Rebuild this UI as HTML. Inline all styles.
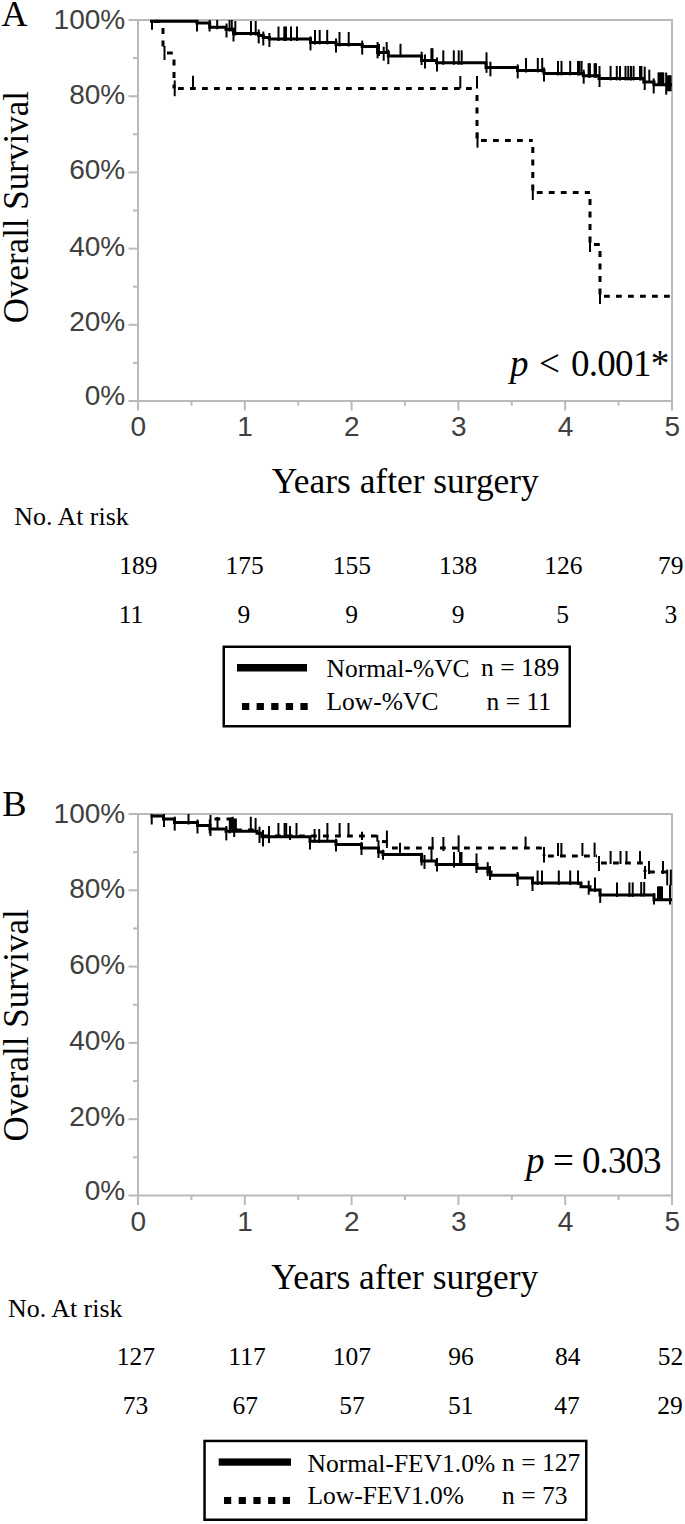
<!DOCTYPE html>
<html><head><meta charset="utf-8"><title>Kaplan-Meier curves</title>
<style>html,body{margin:0;padding:0;background:#fff;} body{width:685px;height:1524px;overflow:hidden;} svg{display:block;}</style>
</head><body>
<svg width="685" height="1524" viewBox="0 0 685 1524">
<rect width="685" height="1524" fill="#fff"/>
<rect x="138" y="19" width="535" height="2" fill="#bababa"/>
<rect x="671" y="19" width="2" height="383" fill="#bababa"/>
<rect x="137" y="19" width="2" height="383" fill="#bababa"/>
<rect x="137" y="400" width="536" height="2" fill="#bababa"/>
<rect x="128.5" y="400" width="9.5" height="2" fill="#bababa"/>
<rect x="133" y="361.9" width="5" height="2" fill="#bababa"/>
<rect x="128.5" y="323.8" width="9.5" height="2" fill="#bababa"/>
<rect x="133" y="285.7" width="5" height="2" fill="#bababa"/>
<rect x="128.5" y="247.6" width="9.5" height="2" fill="#bababa"/>
<rect x="133" y="209.5" width="5" height="2" fill="#bababa"/>
<rect x="128.5" y="171.4" width="9.5" height="2" fill="#bababa"/>
<rect x="133" y="133.3" width="5" height="2" fill="#bababa"/>
<rect x="128.5" y="95.2" width="9.5" height="2" fill="#bababa"/>
<rect x="133" y="57.1" width="5" height="2" fill="#bababa"/>
<rect x="128.5" y="19" width="9.5" height="2" fill="#bababa"/>
<rect x="137" y="401" width="2" height="9.5" fill="#bababa"/>
<rect x="190.4" y="401" width="2" height="4.5" fill="#bababa"/>
<rect x="243.8" y="401" width="2" height="9.5" fill="#bababa"/>
<rect x="297.2" y="401" width="2" height="4.5" fill="#bababa"/>
<rect x="350.6" y="401" width="2" height="9.5" fill="#bababa"/>
<rect x="404" y="401" width="2" height="4.5" fill="#bababa"/>
<rect x="457.4" y="401" width="2" height="9.5" fill="#bababa"/>
<rect x="510.8" y="401" width="2" height="4.5" fill="#bababa"/>
<rect x="564.2" y="401" width="2" height="9.5" fill="#bababa"/>
<rect x="617.6" y="401" width="2" height="4.5" fill="#bababa"/>
<rect x="671" y="401" width="2" height="9.5" fill="#bababa"/>
<text x="125.2" y="28.7" font-family="Liberation Sans" font-size="28" text-anchor="end" fill="#404040" >100%</text>
<text x="125.2" y="103.6" font-family="Liberation Sans" font-size="28" text-anchor="end" fill="#404040" >80%</text>
<text x="125.2" y="179.3" font-family="Liberation Sans" font-size="28" text-anchor="end" fill="#404040" >60%</text>
<text x="125.2" y="255.6" font-family="Liberation Sans" font-size="28" text-anchor="end" fill="#404040" >40%</text>
<text x="125.2" y="331.3" font-family="Liberation Sans" font-size="28" text-anchor="end" fill="#404040" >20%</text>
<text x="125.2" y="405" font-family="Liberation Sans" font-size="28" text-anchor="end" fill="#404040" >0%</text>
<text x="138.3" y="436" font-family="Liberation Sans" font-size="28" text-anchor="middle" fill="#404040" >0</text>
<text x="245.1" y="436" font-family="Liberation Sans" font-size="28" text-anchor="middle" fill="#404040" >1</text>
<text x="351.9" y="436" font-family="Liberation Sans" font-size="28" text-anchor="middle" fill="#404040" >2</text>
<text x="458.7" y="436" font-family="Liberation Sans" font-size="28" text-anchor="middle" fill="#404040" >3</text>
<text x="565.5" y="436" font-family="Liberation Sans" font-size="28" text-anchor="middle" fill="#404040" >4</text>
<text x="672.3" y="436" font-family="Liberation Sans" font-size="28" text-anchor="middle" fill="#404040" >5</text>
<text x="1.6" y="25.8" font-family="Liberation Serif" font-size="36" text-anchor="start" fill="#000" >A</text>
<text x="0" y="0" font-family="Liberation Serif" font-size="35" text-anchor="middle" fill="#000" transform="translate(28.3 207.2) rotate(-90)">Overall Survival</text>
<text x="271.8" y="493" font-family="Liberation Serif" font-size="35.4" text-anchor="start" fill="#000" >Years after surgery</text>
<text x="14.3" y="525" font-family="Liberation Serif" font-size="25.9" text-anchor="start" fill="#000" >No. At risk</text>
<text x="138.3" y="573.5" font-family="Liberation Serif" font-size="25.5" text-anchor="middle" fill="#000" >189</text>
<text x="244.5" y="573.5" font-family="Liberation Serif" font-size="25.5" text-anchor="middle" fill="#000" >175</text>
<text x="351.9" y="573.5" font-family="Liberation Serif" font-size="25.5" text-anchor="middle" fill="#000" >155</text>
<text x="458.2" y="573.5" font-family="Liberation Serif" font-size="25.5" text-anchor="middle" fill="#000" >138</text>
<text x="563.3" y="573.5" font-family="Liberation Serif" font-size="25.5" text-anchor="middle" fill="#000" >126</text>
<text x="670.8" y="573.5" font-family="Liberation Serif" font-size="25.5" text-anchor="middle" fill="#000" >79</text>
<text x="131" y="622.5" font-family="Liberation Serif" font-size="25.5" text-anchor="middle" fill="#000" >11</text>
<text x="243.9" y="622.5" font-family="Liberation Serif" font-size="25.5" text-anchor="middle" fill="#000" >9</text>
<text x="351.7" y="622.5" font-family="Liberation Serif" font-size="25.5" text-anchor="middle" fill="#000" >9</text>
<text x="458" y="622.5" font-family="Liberation Serif" font-size="25.5" text-anchor="middle" fill="#000" >9</text>
<text x="562.7" y="622.5" font-family="Liberation Serif" font-size="25.5" text-anchor="middle" fill="#000" >5</text>
<text x="670.9" y="622.5" font-family="Liberation Serif" font-size="25.5" text-anchor="middle" fill="#000" >3</text>
<text x="510" y="375.8" font-family="Liberation Serif" font-size="37" font-style="italic" fill="#000">p</text>
<text x="539" y="375.8" font-family="Liberation Serif" font-size="37" fill="#000">&lt;</text>
<text x="571" y="375.8" font-family="Liberation Serif" font-size="37" fill="#000" textLength="98.2" lengthAdjust="spacing">0.001*</text>
<path d="M150 21.4 H163" fill="none" stroke="#000" stroke-width="3" stroke-dasharray="5.8 6.2" stroke-dashoffset="8"/>
<path d="M163 21.4 V53" fill="none" stroke="#000" stroke-width="3" stroke-dasharray="6 6.5" stroke-dashoffset="6"/>
<path d="M163 53 H174" fill="none" stroke="#000" stroke-width="3" stroke-dasharray="5.8 6.2" stroke-dashoffset="8"/>
<path d="M174 53 V88.5" fill="none" stroke="#000" stroke-width="3" stroke-dasharray="6 6.5" stroke-dashoffset="6"/>
<path d="M174 88.5 H477" fill="none" stroke="#000" stroke-width="3" stroke-dasharray="5.8 6.2" stroke-dashoffset="8"/>
<path d="M477 88.5 V140.6" fill="none" stroke="#000" stroke-width="3" stroke-dasharray="6 6.5" stroke-dashoffset="6"/>
<path d="M477 140.6 H532.8" fill="none" stroke="#000" stroke-width="3" stroke-dasharray="5.8 6.2" stroke-dashoffset="8"/>
<path d="M532.8 140.6 V192.6" fill="none" stroke="#000" stroke-width="3" stroke-dasharray="6 6.5" stroke-dashoffset="6"/>
<path d="M532.8 192.6 H590" fill="none" stroke="#000" stroke-width="3" stroke-dasharray="5.8 6.2" stroke-dashoffset="8"/>
<path d="M590 192.6 V244.5" fill="none" stroke="#000" stroke-width="3" stroke-dasharray="6 6.5" stroke-dashoffset="6"/>
<path d="M590 244.5 H600" fill="none" stroke="#000" stroke-width="3" stroke-dasharray="5.8 6.2" stroke-dashoffset="8"/>
<path d="M600 244.5 V296.3" fill="none" stroke="#000" stroke-width="3" stroke-dasharray="6 6.5" stroke-dashoffset="6"/>
<path d="M600 296.3 H672" fill="none" stroke="#000" stroke-width="3" stroke-dasharray="5.8 6.2" stroke-dashoffset="8"/>
<line x1="164.5" y1="46" x2="164.5" y2="60" stroke="#000" stroke-width="2" />
<line x1="174.7" y1="80.4" x2="174.7" y2="96.2" stroke="#000" stroke-width="2" />
<line x1="193" y1="75.7" x2="193" y2="88.5" stroke="#000" stroke-width="2" />
<line x1="460.3" y1="76" x2="460.3" y2="88.5" stroke="#000" stroke-width="2" />
<line x1="477" y1="76" x2="477" y2="88.5" stroke="#000" stroke-width="2" />
<line x1="477.5" y1="132.4" x2="477.5" y2="147.6" stroke="#000" stroke-width="2" />
<line x1="532.8" y1="185" x2="532.8" y2="200" stroke="#000" stroke-width="2" />
<line x1="590" y1="237" x2="590" y2="252" stroke="#000" stroke-width="2" />
<line x1="600" y1="289" x2="600" y2="304" stroke="#000" stroke-width="2" />
<path d="M150 21.2 H197 V23 H209.7 V27.3 H226 V29.5 H233.5 V33.5 H258.7 V35.4 H263.3 V37.5 H269.4 V39 H310.5 V42.4 H336 V44.5 H362.2 V46.6 H377.6 V52.5 H388.3 V56 H421.6 V60.4 H436.5 V62.8 H486 V67.5 H517.5 V70.4 H544 V73.4 H583.4 V75.7 H599 V78.4 H643.8 V81.9 H654 V84.8 H672" fill="none" stroke="#000" stroke-width="3" stroke-linecap="butt" stroke-linejoin="miter"/>
<line x1="152" y1="20" x2="152" y2="29.7" stroke="#000" stroke-width="2" />
<line x1="197" y1="20" x2="197" y2="31.5" stroke="#000" stroke-width="2" />
<line x1="209.6" y1="20" x2="209.6" y2="31.5" stroke="#000" stroke-width="2" />
<line x1="217.2" y1="20" x2="217.2" y2="29.3" stroke="#000" stroke-width="2" />
<line x1="226.5" y1="23.5" x2="226.5" y2="37.5" stroke="#000" stroke-width="2" />
<line x1="229.5" y1="20" x2="229.5" y2="31.5" stroke="#000" stroke-width="2" />
<line x1="231.8" y1="20" x2="231.8" y2="31.5" stroke="#000" stroke-width="2" />
<line x1="233.5" y1="27.5" x2="233.5" y2="41.5" stroke="#000" stroke-width="2" />
<line x1="235.3" y1="21" x2="235.3" y2="35.5" stroke="#000" stroke-width="2" />
<line x1="251" y1="21" x2="251" y2="35.5" stroke="#000" stroke-width="2" />
<line x1="255.7" y1="21" x2="255.7" y2="35.5" stroke="#000" stroke-width="2" />
<line x1="258.7" y1="29.4" x2="258.7" y2="43.4" stroke="#000" stroke-width="2" />
<line x1="263.3" y1="31.5" x2="263.3" y2="45.5" stroke="#000" stroke-width="2" />
<line x1="269.4" y1="33" x2="269.4" y2="47" stroke="#000" stroke-width="2" />
<line x1="278.5" y1="26.5" x2="278.5" y2="41" stroke="#000" stroke-width="2" />
<line x1="284.3" y1="26.5" x2="284.3" y2="41" stroke="#000" stroke-width="2" />
<line x1="286" y1="26.5" x2="286" y2="41" stroke="#000" stroke-width="2" />
<line x1="291" y1="26.5" x2="291" y2="41" stroke="#000" stroke-width="2" />
<line x1="297" y1="26.5" x2="297" y2="41" stroke="#000" stroke-width="2" />
<line x1="310.5" y1="36.4" x2="310.5" y2="50.4" stroke="#000" stroke-width="2" />
<line x1="315" y1="29.9" x2="315" y2="44.4" stroke="#000" stroke-width="2" />
<line x1="319.7" y1="29.9" x2="319.7" y2="44.4" stroke="#000" stroke-width="2" />
<line x1="327.2" y1="29.9" x2="327.2" y2="44.4" stroke="#000" stroke-width="2" />
<line x1="336" y1="38.5" x2="336" y2="52.5" stroke="#000" stroke-width="2" />
<line x1="339.5" y1="32" x2="339.5" y2="46.5" stroke="#000" stroke-width="2" />
<line x1="348.7" y1="32" x2="348.7" y2="46.5" stroke="#000" stroke-width="2" />
<line x1="362.2" y1="40.6" x2="362.2" y2="54.6" stroke="#000" stroke-width="2" />
<line x1="377.6" y1="42" x2="377.6" y2="58.4" stroke="#000" stroke-width="2" />
<line x1="379" y1="44" x2="379" y2="56" stroke="#000" stroke-width="2" />
<line x1="383.7" y1="46.7" x2="383.7" y2="60.7" stroke="#000" stroke-width="2" />
<line x1="386.7" y1="42" x2="386.7" y2="52.5" stroke="#000" stroke-width="2" />
<line x1="388.3" y1="49.6" x2="388.3" y2="64.2" stroke="#000" stroke-width="2" />
<line x1="400.5" y1="43.8" x2="400.5" y2="57.2" stroke="#000" stroke-width="2" />
<line x1="421.6" y1="51.7" x2="421.6" y2="65.1" stroke="#000" stroke-width="2" />
<line x1="425" y1="54.6" x2="425" y2="68.6" stroke="#000" stroke-width="2" />
<line x1="431.4" y1="48.2" x2="431.4" y2="61.6" stroke="#000" stroke-width="2" />
<line x1="432.5" y1="48.2" x2="432.5" y2="61.6" stroke="#000" stroke-width="2" />
<line x1="437" y1="57.5" x2="437" y2="71.5" stroke="#000" stroke-width="2" />
<line x1="443.3" y1="50.3" x2="443.3" y2="64.8" stroke="#000" stroke-width="2" />
<line x1="453.8" y1="50.3" x2="453.8" y2="64.8" stroke="#000" stroke-width="2" />
<line x1="458.7" y1="50.3" x2="458.7" y2="64.8" stroke="#000" stroke-width="2" />
<line x1="461.7" y1="50.3" x2="461.7" y2="64.8" stroke="#000" stroke-width="2" />
<line x1="486.5" y1="52.3" x2="486.5" y2="72.8" stroke="#000" stroke-width="2" />
<line x1="490.4" y1="61.7" x2="490.4" y2="76.3" stroke="#000" stroke-width="2" />
<line x1="517.7" y1="64.4" x2="517.7" y2="78.4" stroke="#000" stroke-width="2" />
<line x1="526" y1="57.9" x2="526" y2="72.4" stroke="#000" stroke-width="2" />
<line x1="537.8" y1="57.9" x2="537.8" y2="72.4" stroke="#000" stroke-width="2" />
<line x1="542.2" y1="57.9" x2="542.2" y2="72.4" stroke="#000" stroke-width="2" />
<line x1="544" y1="67.4" x2="544" y2="81.4" stroke="#000" stroke-width="2" />
<line x1="558" y1="60.9" x2="558" y2="75.4" stroke="#000" stroke-width="2" />
<line x1="561.5" y1="60.9" x2="561.5" y2="75.4" stroke="#000" stroke-width="2" />
<line x1="570.2" y1="60.9" x2="570.2" y2="75.4" stroke="#000" stroke-width="2" />
<line x1="578" y1="60.9" x2="578" y2="75.4" stroke="#000" stroke-width="2" />
<line x1="579.5" y1="60.9" x2="579.5" y2="75.4" stroke="#000" stroke-width="2" />
<line x1="581.6" y1="60.9" x2="581.6" y2="75.4" stroke="#000" stroke-width="2" />
<line x1="583.7" y1="69.7" x2="583.7" y2="83.7" stroke="#000" stroke-width="2" />
<line x1="588.6" y1="63.2" x2="588.6" y2="77.7" stroke="#000" stroke-width="2" />
<line x1="589.9" y1="63.2" x2="589.9" y2="77.7" stroke="#000" stroke-width="2" />
<line x1="594.6" y1="63.2" x2="594.6" y2="77.7" stroke="#000" stroke-width="2" />
<line x1="596" y1="63.2" x2="596" y2="77.7" stroke="#000" stroke-width="2" />
<line x1="599.5" y1="66" x2="599.5" y2="87" stroke="#000" stroke-width="2" />
<line x1="610.6" y1="65.9" x2="610.6" y2="80.4" stroke="#000" stroke-width="2" />
<line x1="616.8" y1="65.9" x2="616.8" y2="80.4" stroke="#000" stroke-width="2" />
<line x1="620" y1="65.9" x2="620" y2="80.4" stroke="#000" stroke-width="2" />
<line x1="625.5" y1="65.9" x2="625.5" y2="80.4" stroke="#000" stroke-width="2" />
<line x1="628.3" y1="65.9" x2="628.3" y2="80.4" stroke="#000" stroke-width="2" />
<line x1="631" y1="65.9" x2="631" y2="80.4" stroke="#000" stroke-width="2" />
<line x1="633.6" y1="65.9" x2="633.6" y2="80.4" stroke="#000" stroke-width="2" />
<line x1="640" y1="65.9" x2="640" y2="80.4" stroke="#000" stroke-width="2" />
<line x1="641.4" y1="65.9" x2="641.4" y2="80.4" stroke="#000" stroke-width="2" />
<line x1="644.7" y1="66.7" x2="644.7" y2="90" stroke="#000" stroke-width="2" />
<line x1="649.3" y1="69.6" x2="649.3" y2="82.4" stroke="#000" stroke-width="2" />
<line x1="653.7" y1="78.4" x2="653.7" y2="93.5" stroke="#000" stroke-width="2" />
<line x1="658.5" y1="72.5" x2="658.5" y2="86" stroke="#000" stroke-width="2" />
<line x1="659.5" y1="72.5" x2="659.5" y2="86" stroke="#000" stroke-width="2" />
<line x1="660.5" y1="72.5" x2="660.5" y2="86" stroke="#000" stroke-width="2" />
<line x1="661.5" y1="72.5" x2="661.5" y2="86" stroke="#000" stroke-width="2" />
<line x1="662.5" y1="72.5" x2="662.5" y2="86" stroke="#000" stroke-width="2" />
<line x1="663.3" y1="72.5" x2="663.3" y2="86" stroke="#000" stroke-width="2" />
<line x1="666.2" y1="72.5" x2="666.2" y2="94.7" stroke="#000" stroke-width="2" />
<line x1="667.8" y1="75.4" x2="667.8" y2="91.2" stroke="#000" stroke-width="2" />
<line x1="668.8" y1="75.4" x2="668.8" y2="91.2" stroke="#000" stroke-width="2" />
<line x1="669.8" y1="75.4" x2="669.8" y2="91.2" stroke="#000" stroke-width="2" />
<line x1="670.6" y1="75.4" x2="670.6" y2="91.2" stroke="#000" stroke-width="2" />
<rect x="223.75" y="646.75" width="346" height="79.5" fill="none" stroke="#000" stroke-width="2.5"/>
<rect x="237" y="664" width="70" height="7.5" fill="#000"/>
<rect x="242" y="703" width="7.3" height="7" fill="#000"/>
<rect x="256.6" y="703" width="7.3" height="7" fill="#000"/>
<rect x="271.2" y="703" width="7.3" height="7" fill="#000"/>
<rect x="285.8" y="703" width="7.3" height="7" fill="#000"/>
<rect x="300.4" y="703" width="7.3" height="7" fill="#000"/>
<text x="326.5" y="676.9" font-family="Liberation Serif" font-size="25.5" text-anchor="start" fill="#000" >Normal-%VC</text>
<text x="326.5" y="709.6" font-family="Liberation Serif" font-size="25.5" text-anchor="start" fill="#000" >Low-%VC</text>
<text x="481" y="675.5" font-family="Liberation Serif" font-size="25.5" text-anchor="start" fill="#000" >n = 189</text>
<text x="486.5" y="710.2" font-family="Liberation Serif" font-size="25.5" text-anchor="start" fill="#000" >n = 11</text>
<rect x="138" y="813" width="535" height="2" fill="#bababa"/>
<rect x="671" y="813" width="2" height="383.5" fill="#bababa"/>
<rect x="137" y="813" width="2" height="383.5" fill="#bababa"/>
<rect x="137" y="1194.5" width="536" height="2" fill="#bababa"/>
<rect x="128.5" y="1194.5" width="9.5" height="2" fill="#bababa"/>
<rect x="133" y="1156.35" width="5" height="2" fill="#bababa"/>
<rect x="128.5" y="1118.2" width="9.5" height="2" fill="#bababa"/>
<rect x="133" y="1080.05" width="5" height="2" fill="#bababa"/>
<rect x="128.5" y="1041.9" width="9.5" height="2" fill="#bababa"/>
<rect x="133" y="1003.75" width="5" height="2" fill="#bababa"/>
<rect x="128.5" y="965.6" width="9.5" height="2" fill="#bababa"/>
<rect x="133" y="927.45" width="5" height="2" fill="#bababa"/>
<rect x="128.5" y="889.3" width="9.5" height="2" fill="#bababa"/>
<rect x="133" y="851.15" width="5" height="2" fill="#bababa"/>
<rect x="128.5" y="813" width="9.5" height="2" fill="#bababa"/>
<rect x="137" y="1195.5" width="2" height="9.5" fill="#bababa"/>
<rect x="190.4" y="1195.5" width="2" height="4.5" fill="#bababa"/>
<rect x="243.8" y="1195.5" width="2" height="9.5" fill="#bababa"/>
<rect x="297.2" y="1195.5" width="2" height="4.5" fill="#bababa"/>
<rect x="350.6" y="1195.5" width="2" height="9.5" fill="#bababa"/>
<rect x="404" y="1195.5" width="2" height="4.5" fill="#bababa"/>
<rect x="457.4" y="1195.5" width="2" height="9.5" fill="#bababa"/>
<rect x="510.8" y="1195.5" width="2" height="4.5" fill="#bababa"/>
<rect x="564.2" y="1195.5" width="2" height="9.5" fill="#bababa"/>
<rect x="617.6" y="1195.5" width="2" height="4.5" fill="#bababa"/>
<rect x="671" y="1195.5" width="2" height="9.5" fill="#bababa"/>
<text x="125.2" y="823.2" font-family="Liberation Sans" font-size="28" text-anchor="end" fill="#404040" >100%</text>
<text x="125.2" y="898.1" font-family="Liberation Sans" font-size="28" text-anchor="end" fill="#404040" >80%</text>
<text x="125.2" y="973.8" font-family="Liberation Sans" font-size="28" text-anchor="end" fill="#404040" >60%</text>
<text x="125.2" y="1050.1" font-family="Liberation Sans" font-size="28" text-anchor="end" fill="#404040" >40%</text>
<text x="125.2" y="1125.8" font-family="Liberation Sans" font-size="28" text-anchor="end" fill="#404040" >20%</text>
<text x="125.2" y="1199.5" font-family="Liberation Sans" font-size="28" text-anchor="end" fill="#404040" >0%</text>
<text x="138.3" y="1230.5" font-family="Liberation Sans" font-size="28" text-anchor="middle" fill="#404040" >0</text>
<text x="245.1" y="1230.5" font-family="Liberation Sans" font-size="28" text-anchor="middle" fill="#404040" >1</text>
<text x="351.9" y="1230.5" font-family="Liberation Sans" font-size="28" text-anchor="middle" fill="#404040" >2</text>
<text x="458.7" y="1230.5" font-family="Liberation Sans" font-size="28" text-anchor="middle" fill="#404040" >3</text>
<text x="565.5" y="1230.5" font-family="Liberation Sans" font-size="28" text-anchor="middle" fill="#404040" >4</text>
<text x="672.3" y="1230.5" font-family="Liberation Sans" font-size="28" text-anchor="middle" fill="#404040" >5</text>
<text x="2.2" y="815.8" font-family="Liberation Serif" font-size="36.5" text-anchor="start" fill="#000" >B</text>
<text x="0" y="0" font-family="Liberation Serif" font-size="35" text-anchor="middle" fill="#000" transform="translate(28.3 1025.3) rotate(-90)">Overall Survival</text>
<text x="271.2" y="1288.5" font-family="Liberation Serif" font-size="35.4" text-anchor="start" fill="#000" >Years after surgery</text>
<text x="8.1" y="1316.8" font-family="Liberation Serif" font-size="25.9" text-anchor="start" fill="#000" >No. At risk</text>
<text x="135.9" y="1365" font-family="Liberation Serif" font-size="25.5" text-anchor="middle" fill="#000" >127</text>
<text x="247" y="1365" font-family="Liberation Serif" font-size="25.5" text-anchor="middle" fill="#000" >117</text>
<text x="351.9" y="1365" font-family="Liberation Serif" font-size="25.5" text-anchor="middle" fill="#000" >107</text>
<text x="461" y="1365" font-family="Liberation Serif" font-size="25.5" text-anchor="middle" fill="#000" >96</text>
<text x="567.8" y="1365" font-family="Liberation Serif" font-size="25.5" text-anchor="middle" fill="#000" >84</text>
<text x="670.4" y="1365" font-family="Liberation Serif" font-size="25.5" text-anchor="middle" fill="#000" >52</text>
<text x="135.5" y="1414" font-family="Liberation Serif" font-size="25.5" text-anchor="middle" fill="#000" >73</text>
<text x="245.2" y="1414" font-family="Liberation Serif" font-size="25.5" text-anchor="middle" fill="#000" >67</text>
<text x="351.9" y="1414" font-family="Liberation Serif" font-size="25.5" text-anchor="middle" fill="#000" >57</text>
<text x="460.7" y="1414" font-family="Liberation Serif" font-size="25.5" text-anchor="middle" fill="#000" >51</text>
<text x="567" y="1414" font-family="Liberation Serif" font-size="25.5" text-anchor="middle" fill="#000" >47</text>
<text x="670" y="1414" font-family="Liberation Serif" font-size="25.5" text-anchor="middle" fill="#000" >29</text>
<text x="526" y="1172.7" font-family="Liberation Serif" font-size="37" font-style="italic" fill="#000">p</text>
<text x="553" y="1172.7" font-family="Liberation Serif" font-size="37" fill="#000">=</text>
<text x="582" y="1172.7" font-family="Liberation Serif" font-size="37" fill="#000" textLength="79.5" lengthAdjust="spacing">0.303</text>
<path d="M210.5 815 V819" fill="none" stroke="#000" stroke-width="3" stroke-dasharray="6 6.5" stroke-dashoffset="6"/>
<path d="M210.5 819 H232" fill="none" stroke="#000" stroke-width="3" stroke-dasharray="5.8 6.2" stroke-dashoffset="8"/>
<path d="M232 819 V830" fill="none" stroke="#000" stroke-width="3" stroke-dasharray="6 6.5" stroke-dashoffset="6"/>
<path d="M232 830 H259" fill="none" stroke="#000" stroke-width="3" stroke-dasharray="5.8 6.2" stroke-dashoffset="8"/>
<path d="M259 830 V836" fill="none" stroke="#000" stroke-width="3" stroke-dasharray="6 6.5" stroke-dashoffset="6"/>
<path d="M259 836 H378" fill="none" stroke="#000" stroke-width="3" stroke-dasharray="5.8 6.2" stroke-dashoffset="8"/>
<path d="M378 836 V841.6" fill="none" stroke="#000" stroke-width="3" stroke-dasharray="6 6.5" stroke-dashoffset="6"/>
<path d="M378 841.6 H388" fill="none" stroke="#000" stroke-width="3" stroke-dasharray="5.8 6.2" stroke-dashoffset="8"/>
<path d="M388 841.6 V848" fill="none" stroke="#000" stroke-width="3" stroke-dasharray="6 6.5" stroke-dashoffset="6"/>
<path d="M388 848 H544" fill="none" stroke="#000" stroke-width="3" stroke-dasharray="5.8 6.2" stroke-dashoffset="8"/>
<path d="M544 848 V856" fill="none" stroke="#000" stroke-width="3" stroke-dasharray="6 6.5" stroke-dashoffset="6"/>
<path d="M544 856 H597" fill="none" stroke="#000" stroke-width="3" stroke-dasharray="5.8 6.2" stroke-dashoffset="8"/>
<path d="M597 856 V863" fill="none" stroke="#000" stroke-width="3" stroke-dasharray="6 6.5" stroke-dashoffset="6"/>
<path d="M597 863 H645" fill="none" stroke="#000" stroke-width="3" stroke-dasharray="5.8 6.2" stroke-dashoffset="8"/>
<path d="M645 863 V872" fill="none" stroke="#000" stroke-width="3" stroke-dasharray="6 6.5" stroke-dashoffset="6"/>
<path d="M645 872 H669" fill="none" stroke="#000" stroke-width="3" stroke-dasharray="5.8 6.2" stroke-dashoffset="8"/>
<path d="M669 872 V877" fill="none" stroke="#000" stroke-width="3" stroke-dasharray="6 6.5" stroke-dashoffset="6"/>
<path d="M669 877 H672" fill="none" stroke="#000" stroke-width="3" stroke-dasharray="5.8 6.2" stroke-dashoffset="8"/>
<line x1="210.5" y1="815" x2="210.5" y2="836" stroke="#000" stroke-width="2" />
<line x1="217.5" y1="817" x2="217.5" y2="829.5" stroke="#000" stroke-width="2" />
<line x1="339.6" y1="823" x2="339.6" y2="836" stroke="#000" stroke-width="2" />
<line x1="348.5" y1="823" x2="348.5" y2="836" stroke="#000" stroke-width="2" />
<line x1="362" y1="831.7" x2="362" y2="840" stroke="#000" stroke-width="2" />
<line x1="377.3" y1="835" x2="377.3" y2="841.6" stroke="#000" stroke-width="2" />
<line x1="386.9" y1="830.5" x2="386.9" y2="848" stroke="#000" stroke-width="2" />
<line x1="400" y1="842.8" x2="400" y2="856" stroke="#000" stroke-width="2" />
<line x1="432.6" y1="837" x2="432.6" y2="848" stroke="#000" stroke-width="2" />
<line x1="443.4" y1="837" x2="443.4" y2="851" stroke="#000" stroke-width="2" />
<line x1="458.6" y1="835.3" x2="458.6" y2="852" stroke="#000" stroke-width="2" />
<line x1="525.6" y1="836.6" x2="525.6" y2="848" stroke="#000" stroke-width="2" />
<line x1="544" y1="847" x2="544" y2="862.6" stroke="#000" stroke-width="2" />
<line x1="558" y1="843" x2="558" y2="856" stroke="#000" stroke-width="2" />
<line x1="561.4" y1="843" x2="561.4" y2="856" stroke="#000" stroke-width="2" />
<line x1="582.4" y1="843" x2="582.4" y2="856" stroke="#000" stroke-width="2" />
<line x1="594.6" y1="842.6" x2="594.6" y2="857" stroke="#000" stroke-width="2" />
<line x1="599" y1="856" x2="599" y2="871" stroke="#000" stroke-width="2" />
<line x1="610.6" y1="851" x2="610.6" y2="864" stroke="#000" stroke-width="2" />
<line x1="620.5" y1="851" x2="620.5" y2="864" stroke="#000" stroke-width="2" />
<line x1="626.5" y1="851" x2="626.5" y2="864" stroke="#000" stroke-width="2" />
<line x1="640" y1="851" x2="640" y2="864" stroke="#000" stroke-width="2" />
<line x1="645" y1="866" x2="645" y2="879" stroke="#000" stroke-width="2" />
<line x1="649" y1="861" x2="649" y2="874" stroke="#000" stroke-width="2" />
<line x1="663" y1="861" x2="663" y2="874" stroke="#000" stroke-width="2" />
<line x1="667.2" y1="869.6" x2="667.2" y2="885.3" stroke="#000" stroke-width="2" />
<line x1="670.8" y1="869.6" x2="670.8" y2="885.3" stroke="#000" stroke-width="2" />
<path d="M150.5 816 H163.5 V819 H174.5 V822.6 H197.5 V825.5 H210 V829 H226 V831.2 H257 V833.2 H262 V836.8 H310 V841.3 H336 V844.5 H361.5 V848 H378.5 V852 H383 V854.5 H421.6 V861 H436.2 V864.5 H477 V868.2 H488 V872 H491 V875.3 H517.6 V878 H532.5 V883 H581 V886.7 H590 V890 H600 V894.9 H654 V899.8 H672" fill="none" stroke="#000" stroke-width="3" stroke-linecap="butt" stroke-linejoin="miter"/>
<line x1="151.7" y1="814" x2="151.7" y2="824.5" stroke="#000" stroke-width="2" />
<line x1="164" y1="814" x2="164" y2="827" stroke="#000" stroke-width="2" />
<line x1="174.7" y1="816.6" x2="174.7" y2="830.6" stroke="#000" stroke-width="2" />
<line x1="188.5" y1="814" x2="188.5" y2="824.6" stroke="#000" stroke-width="2" />
<line x1="197.5" y1="819.5" x2="197.5" y2="833.5" stroke="#000" stroke-width="2" />
<line x1="209.8" y1="819.5" x2="209.8" y2="833.5" stroke="#000" stroke-width="2" />
<line x1="226.3" y1="826" x2="226.3" y2="840.4" stroke="#000" stroke-width="2" />
<line x1="229.8" y1="820" x2="229.8" y2="833.4" stroke="#000" stroke-width="2" />
<line x1="231.1" y1="817.6" x2="231.1" y2="829" stroke="#000" stroke-width="2" />
<line x1="232.8" y1="816.8" x2="232.8" y2="829.9" stroke="#000" stroke-width="2" />
<line x1="234.2" y1="818.5" x2="234.2" y2="837" stroke="#000" stroke-width="2" />
<line x1="235.9" y1="818.5" x2="235.9" y2="830" stroke="#000" stroke-width="2" />
<line x1="250.8" y1="816.8" x2="250.8" y2="830.8" stroke="#000" stroke-width="2" />
<line x1="255.6" y1="818" x2="255.6" y2="830.8" stroke="#000" stroke-width="2" />
<line x1="259.5" y1="826.7" x2="259.5" y2="843" stroke="#000" stroke-width="2" />
<line x1="263" y1="830" x2="263" y2="846.5" stroke="#000" stroke-width="2" />
<line x1="269" y1="826" x2="269" y2="843" stroke="#000" stroke-width="2" />
<line x1="278.4" y1="823" x2="278.4" y2="837.5" stroke="#000" stroke-width="2" />
<line x1="284.6" y1="823" x2="284.6" y2="837.5" stroke="#000" stroke-width="2" />
<line x1="286.2" y1="823" x2="286.2" y2="837.5" stroke="#000" stroke-width="2" />
<line x1="290" y1="826" x2="290" y2="840" stroke="#000" stroke-width="2" />
<line x1="296.5" y1="823" x2="296.5" y2="837.5" stroke="#000" stroke-width="2" />
<line x1="310" y1="836" x2="310" y2="849.5" stroke="#000" stroke-width="2" />
<line x1="314.6" y1="829" x2="314.6" y2="842.4" stroke="#000" stroke-width="2" />
<line x1="319.2" y1="829" x2="319.2" y2="843" stroke="#000" stroke-width="2" />
<line x1="327.4" y1="823" x2="327.4" y2="842" stroke="#000" stroke-width="2" />
<line x1="336" y1="838.7" x2="336" y2="851.5" stroke="#000" stroke-width="2" />
<line x1="361.5" y1="842" x2="361.5" y2="855" stroke="#000" stroke-width="2" />
<line x1="378.5" y1="840.4" x2="378.5" y2="858" stroke="#000" stroke-width="2" />
<line x1="383" y1="849.8" x2="383" y2="859.7" stroke="#000" stroke-width="2" />
<line x1="421.6" y1="852.8" x2="421.6" y2="865.6" stroke="#000" stroke-width="2" />
<line x1="424.5" y1="855" x2="424.5" y2="869" stroke="#000" stroke-width="2" />
<line x1="431.5" y1="848.7" x2="431.5" y2="862" stroke="#000" stroke-width="2" />
<line x1="437" y1="858" x2="437" y2="871.5" stroke="#000" stroke-width="2" />
<line x1="454" y1="852" x2="454" y2="867.4" stroke="#000" stroke-width="2" />
<line x1="460" y1="852" x2="460" y2="865" stroke="#000" stroke-width="2" />
<line x1="461.5" y1="852" x2="461.5" y2="865" stroke="#000" stroke-width="2" />
<line x1="476.5" y1="853.4" x2="476.5" y2="873" stroke="#000" stroke-width="2" />
<line x1="487.7" y1="862.2" x2="487.7" y2="876.2" stroke="#000" stroke-width="2" />
<line x1="490" y1="866" x2="490" y2="880" stroke="#000" stroke-width="2" />
<line x1="517.6" y1="872" x2="517.6" y2="886" stroke="#000" stroke-width="2" />
<line x1="532.5" y1="877" x2="532.5" y2="891" stroke="#000" stroke-width="2" />
<line x1="537.6" y1="870.5" x2="537.6" y2="885" stroke="#000" stroke-width="2" />
<line x1="542" y1="870.5" x2="542" y2="885" stroke="#000" stroke-width="2" />
<line x1="558.8" y1="870.5" x2="558.8" y2="885" stroke="#000" stroke-width="2" />
<line x1="570.2" y1="870.5" x2="570.2" y2="885" stroke="#000" stroke-width="2" />
<line x1="578" y1="870.5" x2="578" y2="885" stroke="#000" stroke-width="2" />
<line x1="588.7" y1="880.7" x2="588.7" y2="894.7" stroke="#000" stroke-width="2" />
<line x1="595" y1="877.5" x2="595" y2="892" stroke="#000" stroke-width="2" />
<line x1="600.2" y1="888.9" x2="600.2" y2="902.9" stroke="#000" stroke-width="2" />
<line x1="617" y1="882.4" x2="617" y2="896.9" stroke="#000" stroke-width="2" />
<line x1="629.4" y1="882.4" x2="629.4" y2="896.9" stroke="#000" stroke-width="2" />
<line x1="632.7" y1="882.4" x2="632.7" y2="896.9" stroke="#000" stroke-width="2" />
<line x1="641.2" y1="882" x2="641.2" y2="896.5" stroke="#000" stroke-width="2" />
<line x1="644.2" y1="882" x2="644.2" y2="896.5" stroke="#000" stroke-width="2" />
<line x1="654" y1="893.2" x2="654" y2="904.4" stroke="#000" stroke-width="2" />
<line x1="658" y1="886.6" x2="658" y2="900.4" stroke="#000" stroke-width="2" />
<line x1="659" y1="886.6" x2="659" y2="900.4" stroke="#000" stroke-width="2" />
<line x1="660" y1="886.6" x2="660" y2="900.4" stroke="#000" stroke-width="2" />
<line x1="661" y1="886.6" x2="661" y2="900.4" stroke="#000" stroke-width="2" />
<line x1="662" y1="886.6" x2="662" y2="900.4" stroke="#000" stroke-width="2" />
<line x1="670" y1="884.7" x2="670" y2="904.4" stroke="#000" stroke-width="2" />
<rect x="204.55" y="1440.95" width="381.7" height="78.8" fill="none" stroke="#000" stroke-width="2.5"/>
<rect x="218.7" y="1458.4" width="72.3" height="7.3" fill="#000"/>
<rect x="224" y="1497" width="7.2" height="7" fill="#000"/>
<rect x="238.7" y="1497" width="7.2" height="7" fill="#000"/>
<rect x="253.4" y="1497" width="7.2" height="7" fill="#000"/>
<rect x="268.1" y="1497" width="7.2" height="7" fill="#000"/>
<rect x="282.8" y="1497" width="7.2" height="7" fill="#000"/>
<text x="307.5" y="1472.2" font-family="Liberation Serif" font-size="25.5" text-anchor="start" fill="#000" >Normal-FEV1.0%</text>
<text x="307.5" y="1504.4" font-family="Liberation Serif" font-size="25.5" text-anchor="start" fill="#000" >Low-FEV1.0%</text>
<text x="502" y="1470.5" font-family="Liberation Serif" font-size="25.5" text-anchor="start" fill="#000" >n = 127</text>
<text x="502" y="1504.4" font-family="Liberation Serif" font-size="25.5" text-anchor="start" fill="#000" >n = 73</text>
</svg>
</body></html>
